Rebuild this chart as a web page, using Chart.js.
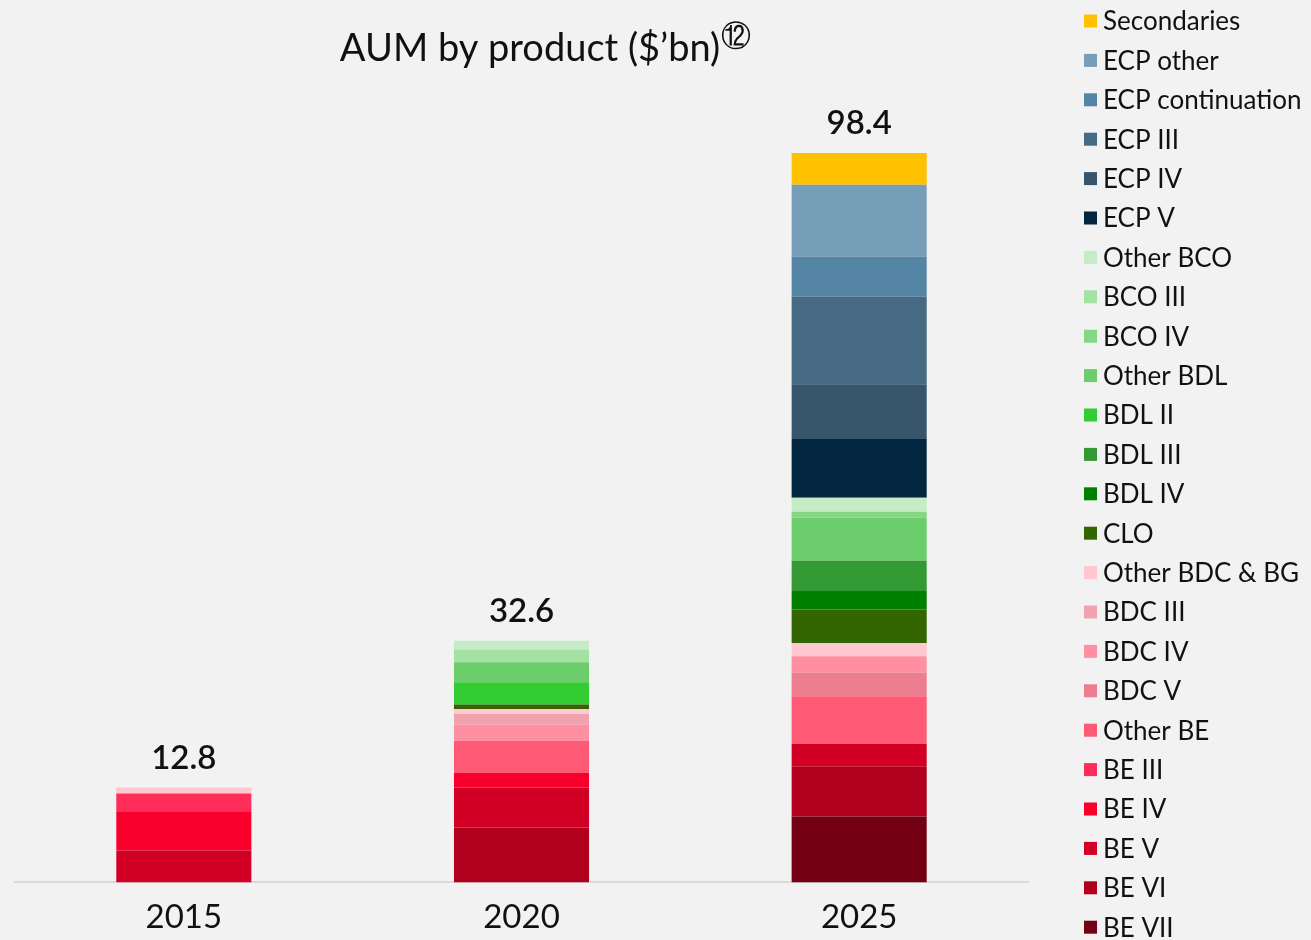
<!DOCTYPE html>
<html>
<head>
<meta charset="utf-8">
<script src="https://cdn.jsdelivr.net/npm/chart.js@4/dist/chart.umd.min.js"></script>
<style>
  html, body { margin: 0; padding: 0; background: #f2f2f2; }
  #wrap { width: 1311px; height: 940px; }
</style>
</head>
<body>
<div id="wrap"><canvas id="aumChart"></canvas></div>
<script>
// years on the x axis
var years = ["2015", "2020", "2025"];

// AUM by product, $bn, one value per year (bottom of stack first)
var beVII        = [0,   0,   8.9];
var beVI         = [0,   7.4, 6.7];
var beV          = [4.3, 5.4, 3.1];
var beIV         = [5.3, 2.0, 0];
var beIII        = [2.4, 0,   0];
var otherBE      = [0,   4.3, 6.4];
var bdcV         = [0,   0,   3.2];
var bdcIV        = [0,   2.2, 2.2];
var bdcIII       = [0,   1.4, 0];
var otherBDC     = [0.8, 0.7, 1.8];
var clo          = [0,   0.6, 4.5];
var bdlIV        = [0,   0,   2.6];
var bdlIII       = [0,   0,   4.0];
var bdlII        = [0,   3.0, 0];
var otherBDL     = [0,   2.7, 5.8];
var bcoIV        = [0,   0,   0.8];
var bcoIII       = [0,   1.7, 0];
var otherBCO     = [0,   1.2, 1.9];
var ecpV         = [0,   0,   7.9];
var ecpIV        = [0,   0,   7.4];
var ecpIII       = [0,   0,   11.8];
var ecpCont      = [0,   0,   5.4];
var ecpOther     = [0,   0,   9.7];
var secondaries  = [0,   0,   4.3];

// totals shown above the bars
var totals = [12.8, 32.6, 98.4];

var series = [
    ["BE VII", beVII, "#730013"],
    ["BE VI", beVI, "#b0001e"],
    ["BE V", beV, "#d10024"],
    ["BE IV", beIV, "#f8002b"],
    ["BE III", beIII, "#ff2d5a"],
    ["Other BE", otherBE, "#ff5a75"],
    ["BDC V", bdcV, "#ec7d8f"],
    ["BDC IV", bdcIV, "#ff8fa1"],
    ["BDC III", bdcIII, "#f0a3ae"],
    ["Other BDC & BG", otherBDC, "#ffc7d0"],
    ["CLO", clo, "#336600"],
    ["BDL IV", bdlIV, "#008000"],
    ["BDL III", bdlIII, "#339933"],
    ["BDL II", bdlII, "#33cc33"],
    ["Other BDL", otherBDL, "#6bcd6b"],
    ["BCO IV", bcoIV, "#85d685"],
    ["BCO III", bcoIII, "#a3e2a3"],
    ["Other BCO", otherBCO, "#c6ecc6"],
    ["ECP V", ecpV, "#02263f"],
    ["ECP IV", ecpIV, "#37566c"],
    ["ECP III", ecpIII, "#466a84"],
    ["ECP continuation", ecpCont, "#5585a4"],
    ["ECP other", ecpOther, "#769eb8"],
    ["Secondaries", secondaries, "#ffc000"]
];

var datasets = series.map(function(s) {
    return {
        label: s[0],
        data: s[1],
        backgroundColor: s[2],
        borderWidth: 0,
        barPercentage: 0.4,
        categoryPercentage: 1.0
    };
});

// title, totals and the legend column are drawn by hand
var extras = {
    id: 'extras',
    afterDraw: function(chart) {
        var ctx = chart.ctx;
        var y = chart.scales.y;
        var x = chart.scales.x;
        ctx.save();

        // title
        var title = "AUM by product ($\u2019bn)";
        ctx.font = '38px Lato';
        ctx.fillStyle = '#111';
        ctx.textBaseline = 'alphabetic';
        var tw = ctx.measureText(title).width;
        ctx.font = '30px "DejaVu Sans"';
        var sw = ctx.measureText('\u246B').width;
        var tx = 545 - (tw + sw) / 2;
        ctx.font = '38px Lato';
        ctx.textAlign = 'left';
        ctx.fillText(title, tx, 61);
        ctx.font = '30px "DejaVu Sans"';
        ctx.fillText('\u246B', tx + tw + 1, 46);

        // totals
        ctx.font = '600 33px Lato';
        ctx.textAlign = 'center';
        totals.forEach(function(t, i) {
            ctx.fillText(t.toFixed(1), x.getPixelForValue(i), y.getPixelForValue(t) - 19);
        });

        // legend, top item = last dataset
        ctx.font = '26px Lato';
        ctx.textAlign = 'left';
        ctx.textBaseline = 'middle';
        var ds = chart.data.datasets;
        for (var k = 0; k < ds.length; k++) {
            var d = ds[ds.length - 1 - k];
            var cy = 21 + k * 39.4;
            ctx.fillStyle = d.backgroundColor;
            ctx.fillRect(1084, cy - 6.5, 13, 13);
            ctx.fillStyle = '#111';
            ctx.fillText(d.label, 1103, cy + 1);
        }
        ctx.restore();
    }
};

var ctx1 = document.getElementById("aumChart");
var aumChart = new Chart(ctx1, {
    type: 'bar',
    data: {
        labels: years,
        datasets: datasets
    },
    options: {
        responsive: true,
        maintainAspectRatio: false,
        animation: false,
        layout: {
            padding: { top: 104, left: 15, right: 283, bottom: -12 }
        },
        plugins: {
            legend: { display: false },
            title: { display: false },
            tooltip: { enabled: false }
        },
        scales: {
            x: {
                stacked: true,
                grid: { display: false, drawTicks: false },
                border: { display: true, color: '#d9d9d9', width: 2 },
                ticks: {
                    padding: 15,
                    color: '#111',
                    font: { family: 'Lato', size: 33 }
                }
            },
            y: {
                stacked: true,
                display: false,
                min: 0,
                max: 105
            }
        }
    },
    plugins: [extras]
});
</script>
</body>
</html>
